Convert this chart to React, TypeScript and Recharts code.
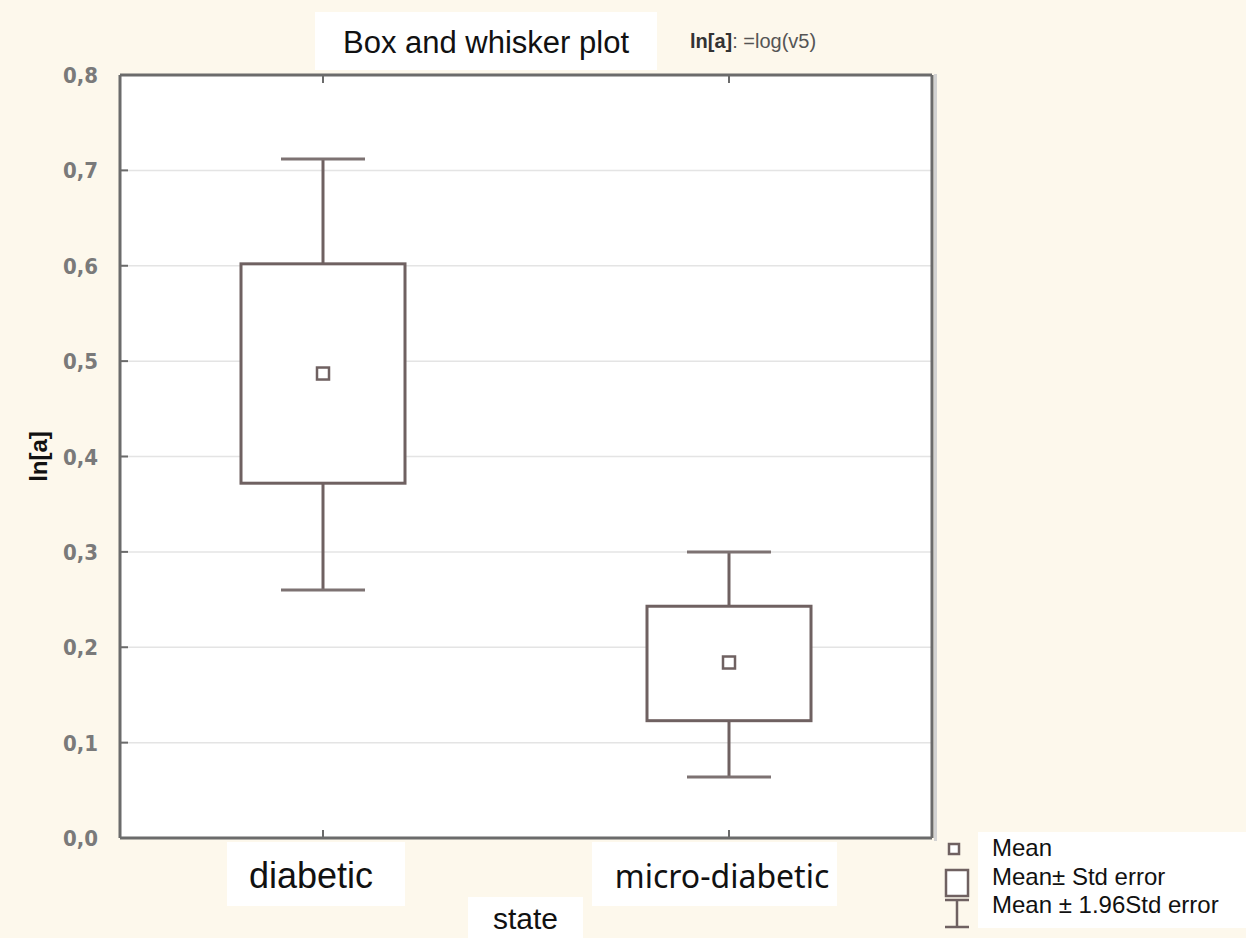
import { ComposedChart, Bar, XAxis, YAxis, CartesianGrid } from "recharts"

const categories = ["diabetic", "micro-diabetic"]
const means = [0.487, 0.184]
const seLow = [0.372, 0.123]
const seHigh = [0.602, 0.243]
const ciLow = [0.26, 0.064]
const ciHigh = [0.712, 0.3]
const yTicks = [0, 0.1, 0.2, 0.3, 0.4, 0.5, 0.6, 0.7, 0.8]

const data = categories.map((state, i) => ({
  state,
  range: [ciLow[i], ciHigh[i]],
  mean: means[i],
  seLow: seLow[i],
  seHigh: seHigh[i],
  ciLow: ciLow[i],
  ciHigh: ciHigh[i],
}))

const W = 1246
const H = 938
const BG = "#fdf8ec"
const FRAME = "#6b6b6b"
const MARK = "#6f6161"
const ARIAL = "'Liberation Sans', Arial, sans-serif"
const NARROW = "'Liberation Sans Narrow', 'DejaVu Sans Condensed', sans-serif"

// white label plates under the category names
const catLabel: Record<string, { font: string; size: number; dx: number; left: number; right: number }> = {
  diabetic: { font: ARIAL, size: 36, dx: -12, left: -96, right: 82 },
  "micro-diabetic": { font: "'Noto Sans', sans-serif", size: 32, dx: -7, left: -137, right: 108 },
}

// draws whisker (±1.96 SE), box (±SE) and mean square inside the bar's extent
function BoxShape(props: any) {
  const { x, y, width, height, payload } = props
  const lo = payload.ciLow
  const hi = payload.ciHigh
  const py = (v: number) => y + (height * (hi - v)) / (hi - lo)
  const cx = x + width / 2
  const cap = 42
  const yTop = py(payload.seHigh)
  const yBot = py(payload.seLow)
  const ym = py(payload.mean)
  return (
    <g>
      <line x1={cx} x2={cx} y1={py(hi)} y2={yTop} stroke={MARK} strokeWidth={3} />
      <line x1={cx} x2={cx} y1={yBot} y2={py(lo)} stroke={MARK} strokeWidth={3} />
      <line x1={cx - cap} x2={cx + cap} y1={py(hi)} y2={py(hi)} stroke="#7d7272" strokeWidth={3} />
      <line x1={cx - cap} x2={cx + cap} y1={py(lo)} y2={py(lo)} stroke="#7d7272" strokeWidth={3} />
      <rect x={x} y={yTop} width={width} height={yBot - yTop} fill="#fff" stroke={MARK} strokeWidth={3} />
      <rect x={cx - 6} y={ym - 6} width={12} height={12} fill="#fff" stroke={MARK} strokeWidth={2.5} />
    </g>
  )
}

function LeftTick(props: any) {
  const { x, y, payload } = props
  return (
    <g>
      <line x1={x} x2={x + 8} y1={y} y2={y} stroke={FRAME} strokeWidth={2} />
      <text x={x - 22} y={y + 8} textAnchor="end" fontFamily={NARROW} fontWeight="bold" fontSize={22} fill="#7a7a7a">
        {payload.value.toFixed(1).replace(".", ",")}
      </text>
    </g>
  )
}

function RightTick(props: any) {
  const { x, y } = props
  return <line x1={x - 6} x2={x} y1={y} y2={y} stroke={FRAME} strokeWidth={2} />
}

function TopTick(props: any) {
  const { x, y } = props
  return <line x1={x} x2={x} y1={y} y2={y + 8} stroke={FRAME} strokeWidth={2} />
}

function BottomTick(props: any) {
  const { x, y, payload } = props
  const s = catLabel[payload.value]
  return (
    <g>
      <line x1={x} x2={x} y1={y} y2={y - 8} stroke={FRAME} strokeWidth={2} />
      <rect x={x + s.left} y={y + 4} width={s.right - s.left} height={64} fill="#fff" />
      <text x={x + s.dx} y={y + 50} textAnchor="middle" fontFamily={s.font} fontSize={s.size} fill="#111">
        {payload.value}
      </text>
    </g>
  )
}

function Legend() {
  return (
    <svg width={316} height={108} style={{ position: "absolute", left: 930, top: 830 }}>
      <rect x={48} y={2} width={268} height={96} fill="#fff" />
      <rect x={19} y={14} width={10} height={10} fill="#fff" stroke={MARK} strokeWidth={2.5} />
      <rect x={16} y={40} width={22} height={26} fill="#fff" stroke={MARK} strokeWidth={2.5} />
      <line x1={15} x2={39} y1={70} y2={70} stroke={MARK} strokeWidth={2.5} />
      <line x1={27} x2={27} y1={70} y2={97} stroke={MARK} strokeWidth={2.5} />
      <line x1={15} x2={39} y1={97} y2={97} stroke={MARK} strokeWidth={2.5} />
      <g fontFamily={ARIAL} fontSize={24} fill="#111">
        <text x={62} y={26}>Mean</text>
        <text x={62} y={55}>Mean± Std error</text>
        <text x={62} y={83}>Mean ± 1.96Std error</text>
      </g>
    </svg>
  )
}

export default function App() {
  return (
    <div style={{ position: "absolute", left: 0, top: 0, width: W, height: H, background: BG, overflow: "hidden" }}>
      <ComposedChart width={W} height={H} data={data} margin={{ top: 74, right: 313, bottom: 0, left: 0 }}>
        <CartesianGrid xAxisId="bottom" yAxisId="left" vertical={false} stroke="#e4e4e4" strokeWidth={1.5} fill="#fff" />
        <XAxis
          xAxisId="top"
          orientation="top"
          dataKey="state"
          height={1}
          tickSize={0}
          tickMargin={0}
          tick={<TopTick />}
          axisLine={{ stroke: FRAME, strokeWidth: 3 }}
        />
        <XAxis
          xAxisId="bottom"
          dataKey="state"
          height={100}
          tickSize={0}
          tickMargin={0}
          tick={<BottomTick />}
          axisLine={{ stroke: FRAME, strokeWidth: 3 }}
        />
        <YAxis
          yAxisId="left"
          domain={[0, 0.8]}
          ticks={yTicks}
          width={120}
          tickSize={0}
          tickMargin={0}
          tick={<LeftTick />}
          axisLine={{ stroke: FRAME, strokeWidth: 3 }}
          label={{
            value: "ln[a]",
            angle: -90,
            position: "insideLeft",
            offset: 38,
            style: { fontFamily: ARIAL, fontWeight: "bold", fontSize: 24, fill: "#111", textAnchor: "middle" },
          }}
        />
        <YAxis
          yAxisId="right"
          orientation="right"
          domain={[0, 0.8]}
          ticks={yTicks}
          width={1}
          tickSize={0}
          tickMargin={0}
          tick={<RightTick />}
          axisLine={{ stroke: FRAME, strokeWidth: 3 }}
        />
        <Bar
          xAxisId="bottom"
          yAxisId="left"
          dataKey="range"
          barSize={164}
          shape={<BoxShape />}
          isAnimationActive={false}
        />
      </ComposedChart>
      <div style={{ position: "absolute", left: 934, top: 74, width: 3, height: 767, background: "#d2d2d2" }} />
      <div
        style={{
          position: "absolute", left: 315, top: 12, width: 342, height: 58, background: "#fff",
          fontFamily: ARIAL, fontSize: 31, color: "#111", textAlign: "center", lineHeight: "62px",
        }}
      >
        Box and whisker plot
      </div>
      <div style={{ position: "absolute", left: 690, top: 30, fontFamily: ARIAL, fontSize: 20, color: "#555", whiteSpace: "nowrap" }}>
        <b style={{ color: "#333" }}>ln[a]</b>: =log(v5)
      </div>
      <div
        style={{
          position: "absolute", left: 468, top: 897, width: 115, height: 41, background: "#fff",
          fontFamily: ARIAL, fontSize: 30, color: "#111", textAlign: "center", lineHeight: "44px",
        }}
      >
        state
      </div>
      <Legend />
    </div>
  )
}
